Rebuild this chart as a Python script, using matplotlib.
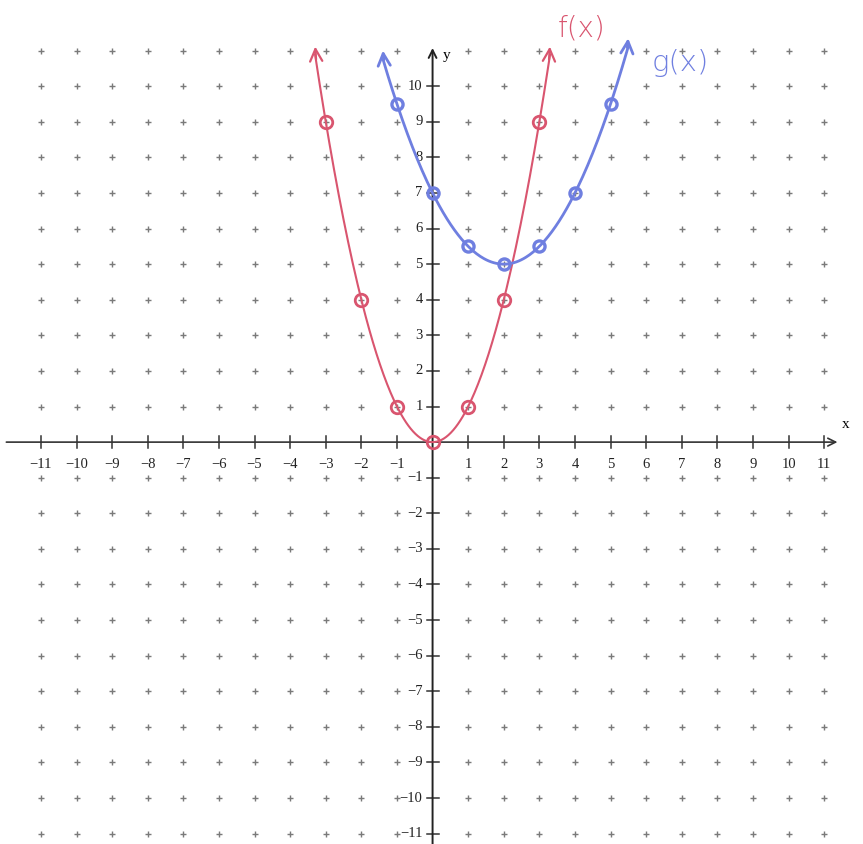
import numpy as np
import matplotlib.pyplot as plt

# points plotted by hand for each function
f_x = [-3, -2, -1, 0, 1, 2, 3]
f_y = [9, 4, 1, 0, 1, 4, 9]
g_x = [-1, 0, 1, 2, 3, 4, 5]
g_y = [9.5, 7, 5.5, 5, 5.5, 7, 9.5]

x_ticks = list(range(-11, 12))
y_ticks = list(range(-11, 11))

red = '#d9556f'
blue = '#6f7fe0'
serif = 'Liberation Serif'

fig = plt.figure(figsize=(8.63, 8.44), dpi=100)
ax = fig.add_axes([0, 0, 1, 1])
ax.set_xlim(-12.15, 12.09)
ax.set_ylim(-11.29, 12.42)
ax.axis('off')

# dotted grid paper
gx, gy = np.meshgrid(np.arange(-11, 12), np.arange(-11, 12))
keep = (gx != 0) & (gy != 0)
ax.plot(gx[keep], gy[keep], '+', color='#7a7a7a', ms=4.5, mew=1.0, zorder=1)

# axes with arrows
ax.annotate('', xy=(11.45, 0), xytext=(-12.05, 0),
            arrowprops=dict(arrowstyle='->', color='#333333', lw=1.2, mutation_scale=14))
ax.annotate('', xy=(0, 11.15), xytext=(0, -11.4),
            arrowprops=dict(arrowstyle='->', color='#222222', lw=1.4, mutation_scale=14))
for t in x_ticks:
    if t == 0:
        continue
    ax.plot([t, t], [-0.17, 0.17], color='#333333', lw=1.1, zorder=2)
    ax.text(t, -0.62, f'\u2212{-t}' if t < 0 else str(t), ha='center', va='center',
            family=serif, fontsize=10.5, color='#222222')
for t in y_ticks:
    if t == 0:
        continue
    ax.plot([-0.17, 0.17], [t, t], color='#333333', lw=1.1, zorder=2)
    ax.text(-0.28, t, f'\u2212{-t}' if t < 0 else str(t), ha='right', va='center',
            family=serif, fontsize=10.5, color='#222222')
ax.text(11.6, 0.5, 'x', family=serif, fontsize=11, ha='center', va='center')
ax.text(0.38, 10.85, 'y', family=serif, fontsize=11, ha='center', va='center')

# f(x) = x^2
xs = np.linspace(-3.3, 3.3, 200)
ax.plot(xs, xs ** 2, color=red, lw=1.5, zorder=3)
for a, b in [(xs[1], xs[0]), (xs[-2], xs[-1])]:
    ax.annotate('', xy=(b, b ** 2 + 0.3), xytext=(a, a ** 2),
                arrowprops=dict(arrowstyle='->', color=red, lw=1.6, mutation_scale=22))
ax.plot(f_x, f_y, 'o', mfc='none', mec=red, mew=2, ms=9, zorder=4)

# g(x) = (x-2)^2 / 2 + 5
xs = np.linspace(-1.4, 5.5, 200)
gs = 0.5 * (xs - 2) ** 2 + 5
ax.plot(xs, gs, color=blue, lw=2, zorder=3)
for i, j in [(1, 0), (-2, -1)]:
    ax.annotate('', xy=(xs[j], gs[j] + 0.3), xytext=(xs[i], gs[i]),
                arrowprops=dict(arrowstyle='->', color=blue, lw=2, mutation_scale=22))
ax.plot(g_x, g_y, 'o', mfc='none', mec=blue, mew=2.4, ms=8, zorder=4)

ax.text(4.2, 11.63, 'f(x)', color=red, fontsize=20, ha='center', va='center',
        family='DejaVu Sans', fontweight='light')
ax.text(6.95, 10.65, 'g(x)', color=blue, fontsize=21, ha='center', va='center',
        family='DejaVu Sans', fontweight='light')

fig.savefig('out.png', dpi=100)
